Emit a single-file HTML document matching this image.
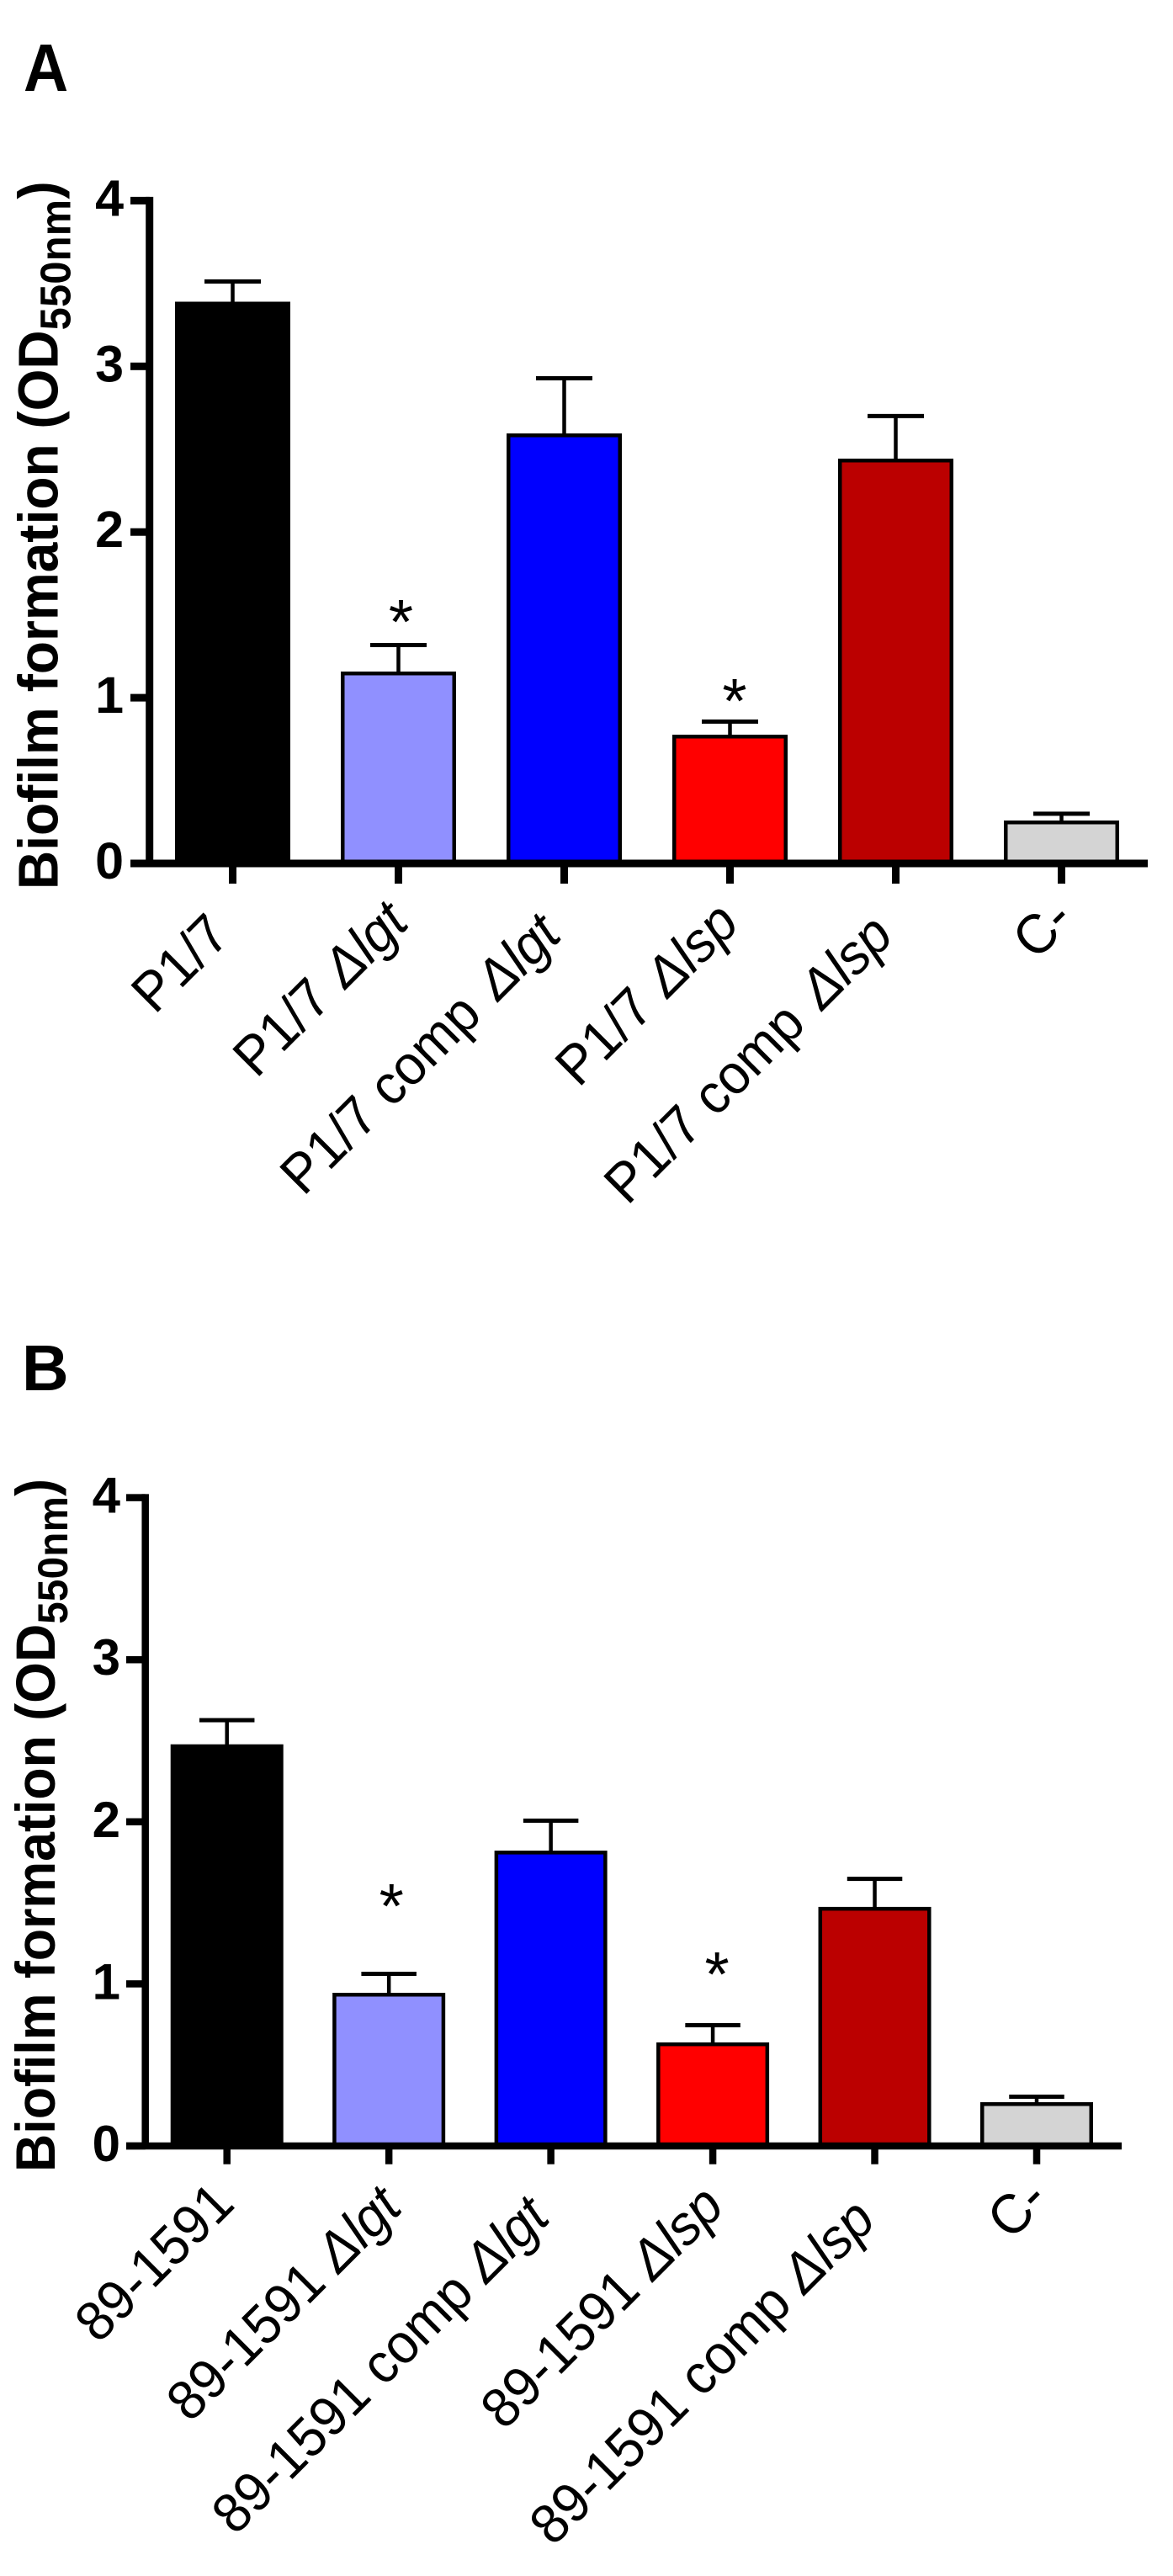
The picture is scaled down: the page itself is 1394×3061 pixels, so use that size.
<!DOCTYPE html>
<html lang="en">
<head>
<meta charset="utf-8">
<title>Biofilm formation</title>
<style>
html,body{margin:0;padding:0;background:#fff;}
svg{display:block;}
text{font-family:"Liberation Sans",sans-serif;fill:#000;white-space:pre;}
.b{font-weight:700;}
</style>
</head>
<body>
<svg id="figure" xmlns="http://www.w3.org/2000/svg" width="1394" height="3061" viewBox="0 0 1394 3061">
  <rect x="0" y="0" width="1394" height="3061" fill="#ffffff"/>
  <text class="b" font-size="80" transform="translate(28,108) scale(.92,1)">A</text>
  <text class="b" x="26" y="1652" font-size="77">B</text>
  <text class="b" font-size="67" transform="translate(68.3,1057) rotate(-90) scale(.955,1)">Biofilm formation (OD<tspan font-size="51" dy="15" letter-spacing="0.3">550nm</tspan><tspan dy="-15">)</tspan></text>
  <text class="b" font-size="66" transform="translate(65,2581) rotate(-90) scale(.95,1)">Biofilm formation (OD<tspan font-size="50" dy="15" letter-spacing="0.3">550nm</tspan><tspan dy="-15">)</tspan></text>
  <g id="panel-a"></g>
  <g id="panel-b"></g>
</svg>
<script>
var categoriesA = ["P1/7", "P1/7 \u0394lgt", "P1/7 comp \u0394lgt", "P1/7 \u0394lsp", "P1/7 comp \u0394lsp", "C-"];
var valuesA = [3.39, 1.158, 2.595, 0.777, 2.443, 0.259];
var errorTopsA = [3.512, 1.318, 2.928, 0.856, 2.70, 0.30];
var significantA = [1, 3];

var categoriesB = ["89-1591", "89-1591 \u0394lgt", "89-1591 comp \u0394lgt", "89-1591 \u0394lsp", "89-1591 comp \u0394lsp", "C-"];
var valuesB = [2.478, 0.945, 1.822, 0.639, 1.475, 0.27];
var errorTopsB = [2.627, 1.062, 2.007, 0.745, 1.648, 0.304];
var significantB = [1, 3];

var yTickLabels = [0, 1, 2, 3, 4];
var barColors = ["#000000", "#9090ff", "#0000ff", "#ff0000", "#bb0000", "#d4d4d4"];

var layoutA = {
  key: "a", x0: 276.5, dx: 197, y0: 1026, unit: 196.9,
  axisX: 177.7, left: 155, right: 1364, thick: 9, tickBottom: 1050,
  barW: 137, capW: 67, tickTextX: 147, tickFont: 61,
  labelDx: [-92.6, -168.9, -309.9, -179.9, -318.9, -30.5],
  labelY: [1206.4, 1282.4, 1422.4, 1293.4, 1433.4, 1142.5],
  deltaGap: [0, 2, 7, 2, 7, 0],
  starDx: {1: 3, 3: 5.5}, starRise: {1: 1.5, 3: -1.5}
};
var layoutB = {
  key: "b", x0: 269.7, dx: 192.46, y0: 2550, unit: 192.6,
  axisX: 172.7, left: 150, right: 1333, thick: 8.5, tickBottom: 2571.7,
  barW: 134, capW: 65.5, tickTextX: 143, tickFont: 60,
  labelDx: [-153, -236.5, -375.3, -248.1, -382.5, -31],
  labelY: [2786, 2880, 3014, 2889, 3027, 2663.5],
  deltaGap: [0, 0, 0, 0, 0, 0],
  starDx: {1: 3, 3: 5}, starRise: {1: 54.5, 3: 34.5}
};

var SVGNS = "http://www.w3.org/2000/svg";
function mk(tag, attrs, parent) {
  var el = document.createElementNS(SVGNS, tag);
  for (var k in attrs) { el.setAttribute(k, attrs[k]); }
  parent.appendChild(el);
  return el;
}

function drawPanel(root, L, categories, values, errorTops, significant) {
  function xScale(i) { return L.x0 + L.dx * i; }
  function yScale(v) { return L.y0 - L.unit * v; }
  var barStroke = 4.5, capH = 5, stemW = 4.5;

  categories.forEach(function (cat, i) {
    var cx = xScale(i);
    var capY = yScale(errorTops[i]);
    var topY = yScale(values[i]);

    var stem = mk("rect", {x: cx - stemW / 2, y: capY, width: stemW, height: topY - capY + 1, fill: "#000"}, root);
    
    

    var cap = mk("rect", {x: cx - L.capW / 2, y: capY - capH / 2, width: L.capW, height: capH, fill: "#000"}, root);
    
    

    var bar = mk("rect", {
      x: cx - L.barW / 2 + barStroke / 2,
      y: topY + barStroke / 2,
      width: L.barW - barStroke,
      height: L.y0 - topY - barStroke / 2,
      fill: barColors[i], stroke: "#000", "stroke-width": barStroke
    }, root);
    
    

    var tick = mk("rect", {x: cx - L.thick / 2, y: L.y0, width: L.thick, height: L.tickBottom - L.y0, fill: "#000"}, root);
    
    

    var ox = cx + L.labelDx[i], oy = L.labelY[i];
    var label = mk("text", {"font-size": 66, transform: "translate(" + ox + "," + oy + ") rotate(-45) scale(.96,1)"}, root);
    
    
    var split = cat.indexOf("\u0394");
    if (split < 0) {
      label.textContent = cat;
    } else {
      var plain = mk("tspan", {}, label);
      plain.textContent = cat.slice(0, split);
      var ital = mk("tspan", {"font-style": "italic", dx: L.deltaGap[i]}, label);
      ital.textContent = cat.slice(split);
    }
  });

  significant.forEach(function (i) {
    var star = mk("text", {
      "font-size": 75, "text-anchor": "middle",
      x: xScale(i) + L.starDx[i],
      y: yScale(errorTops[i]) - L.starRise[i]
    }, root);
    
    
    star.textContent = "*";
  });

  var topTick = yScale(yTickLabels[yTickLabels.length - 1]) - L.thick / 2;
  var yAxis = mk("rect", {x: L.axisX - L.thick / 2, y: topTick, width: L.thick, height: L.y0 - topTick, fill: "#000"}, root);
  
  

  var xAxis = mk("rect", {x: L.left, y: L.y0 - L.thick / 2, width: L.right - L.left, height: L.thick, fill: "#000"}, root);
  
  

  yTickLabels.forEach(function (v) {
    var y = yScale(v);
    var t = mk("rect", {x: L.left, y: y - L.thick / 2, width: L.axisX - L.left, height: L.thick, fill: "#000"}, root);
    
    

    var txt = mk("text", {"class": "b", "font-size": L.tickFont, "text-anchor": "end", x: L.tickTextX, y: y + 18}, root);
    
    
    txt.textContent = String(v);
  });
}

drawPanel(document.getElementById("panel-a"), layoutA, categoriesA, valuesA, errorTopsA, significantA);
drawPanel(document.getElementById("panel-b"), layoutB, categoriesB, valuesB, errorTopsB, significantB);
</script>
</body>
</html>
